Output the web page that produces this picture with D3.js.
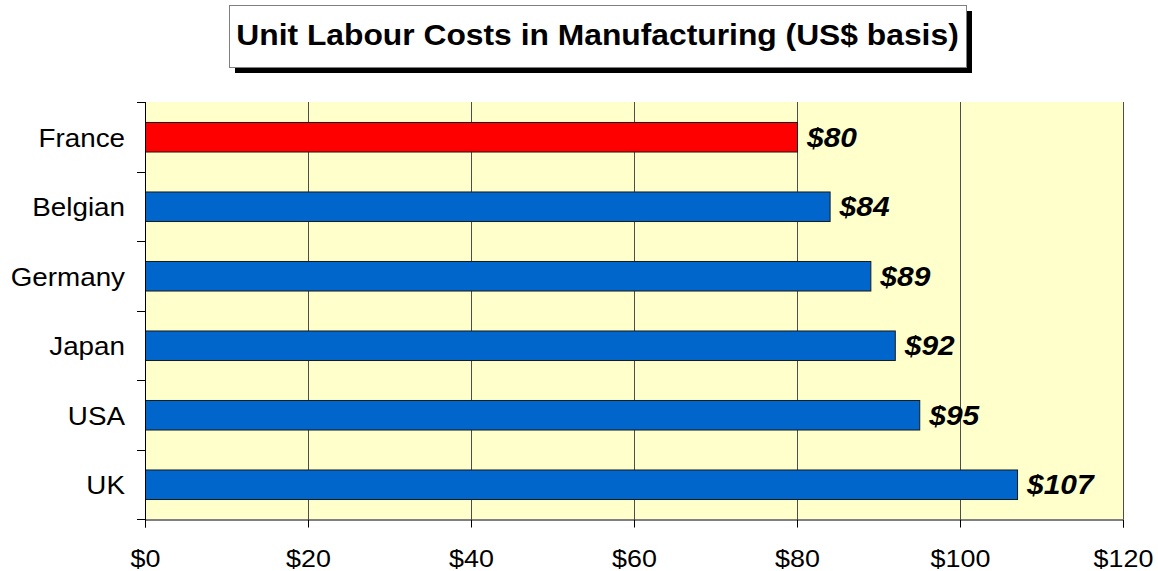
<!DOCTYPE html>
<html>
<head>
<meta charset="utf-8">
<script src="https://cdn.jsdelivr.net/npm/d3@7"></script>
<style>
  body { margin: 0; background: #fff; }
  svg { display: block; font-family: Arial, "Liberation Sans", sans-serif; }
</style>
</head>
<body>
<svg id="chart" width="1158" height="571"></svg>
<script>
// data
var countries = ["France", "Belgian", "Germany", "Japan", "USA", "UK"];
var costs = [80, 84, 89, 92, 95, 107];
var barColors = ["#ff0000", "#0066cc", "#0066cc", "#0066cc", "#0066cc", "#0066cc"];
var xTicks = [0, 20, 40, 60, 80, 100, 120];
var titleText = "Unit Labour Costs in Manufacturing (US$ basis)";

var svg = d3.select("#chart");
var margin = { top: 102, left: 145, right: 1123, bottom: 519 };

var x = d3.scaleLinear().domain([0, 120]).range([margin.left, margin.right]);
var y = d3.scaleBand().domain(countries).range([margin.top, margin.bottom]).paddingInner(0.575).paddingOuter(0.2875);
var yEdge = d3.scaleLinear().domain([0, countries.length]).range([margin.top, margin.bottom]);

// the original picture is a bit stretched sideways, so text gets a scaleX
function stretch(sx) {
  return function(sel) { sel.attr("transform", function() {
    var t = d3.select(this);
    return "translate(" + t.attr("data-x") + "," + t.attr("data-y") + ") scale(" + sx + ",1)";
  }); };
}

// plot background
svg.append("rect")
  .attr("x", margin.left).attr("y", margin.top)
  .attr("width", margin.right - margin.left)
  .attr("height", margin.bottom - margin.top)
  .attr("fill", "#ffffcc");

// vertical grid
svg.append("g").selectAll("line")
  .data(xTicks.slice(1))
  .enter().append("line")
  .attr("x1", function(d) { return x(d) + 0.5; })
  .attr("x2", function(d) { return x(d) + 0.5; })
  .attr("y1", margin.top).attr("y2", margin.bottom)
  .attr("stroke", "#4d4d4d").attr("stroke-width", 1);

// bars
svg.append("g").selectAll("rect")
  .data(countries)
  .enter().append("rect")
  .attr("x", x(0) + 0.5)
  .attr("y", function(d) { return y(d) + 0.5; })
  .attr("width", function(d, i) { return x(costs[i]) - x(0); })
  .attr("height", y.bandwidth())
  .attr("fill", function(d, i) { return barColors[i]; })
  .attr("stroke", "#1a1a1a").attr("stroke-width", 1);

// value labels
svg.append("g").selectAll("text")
  .data(countries)
  .enter().append("text")
  .attr("data-x", function(d, i) { return x(costs[i]) + 10; })
  .attr("data-y", function(d) { return y(d) + y.bandwidth() / 2 + 10; })
  .attr("font-size", 28).attr("font-weight", "bold").attr("font-style", "italic")
  .attr("fill", "#000")
  .text(function(d, i) { return "$" + costs[i]; })
  .call(stretch(1.07));

// y axis line and ticks at category edges
svg.append("line")
  .attr("x1", margin.left + 0.5).attr("x2", margin.left + 0.5)
  .attr("y1", margin.top).attr("y2", margin.bottom + 8)
  .attr("stroke", "#000");
svg.append("g").selectAll("line")
  .data(d3.range(countries.length + 1))
  .enter().append("line")
  .attr("x1", margin.left - 8).attr("x2", margin.left)
  .attr("y1", function(d) { return Math.round(yEdge(d)) + 0.5; })
  .attr("y2", function(d) { return Math.round(yEdge(d)) + 0.5; })
  .attr("stroke", "#000");

// category labels
svg.append("g").selectAll("text")
  .data(countries)
  .enter().append("text")
  .attr("data-x", 125)
  .attr("data-y", function(d) { return y(d) + y.bandwidth() / 2 + 10; })
  .attr("text-anchor", "end")
  .attr("font-size", 26)
  .text(function(d) { return d; })
  .call(stretch(1.07));

// x axis
var xAxis = d3.axisBottom(x)
  .tickValues(xTicks)
  .tickSize(8)
  .tickFormat(function(d) { return "$" + d; });
var gx = svg.append("g")
  .attr("transform", "translate(0," + (margin.bottom + 0.5) + ")")
  .call(xAxis);
gx.select(".domain").attr("stroke", "#000");
gx.selectAll(".tick line").attr("stroke", "#000");
gx.selectAll(".tick text")
  .attr("y", null).attr("dy", null)
  .attr("data-x", 0).attr("data-y", 47.5)
  .attr("font-size", 24)
  .attr("font-family", "Arial, 'Liberation Sans', sans-serif")
  .attr("fill", "#000")
  .call(stretch(1.12));

// title box with shadow
var tb = { x: 229, y: 5, w: 737, h: 62 };
svg.append("rect")
  .attr("x", tb.x + 6).attr("y", tb.y + 6)
  .attr("width", tb.w).attr("height", tb.h)
  .attr("fill", "#000");
svg.append("rect")
  .attr("x", tb.x + 0.5).attr("y", tb.y + 0.5)
  .attr("width", tb.w).attr("height", tb.h)
  .attr("fill", "#fff").attr("stroke", "#808080");
svg.append("text")
  .attr("data-x", tb.x + tb.w / 2)
  .attr("data-y", 45)
  .attr("text-anchor", "middle")
  .attr("font-size", 30).attr("font-weight", "bold")
  .text(titleText)
  .call(stretch(1.06));
</script>
</body>
</html>
